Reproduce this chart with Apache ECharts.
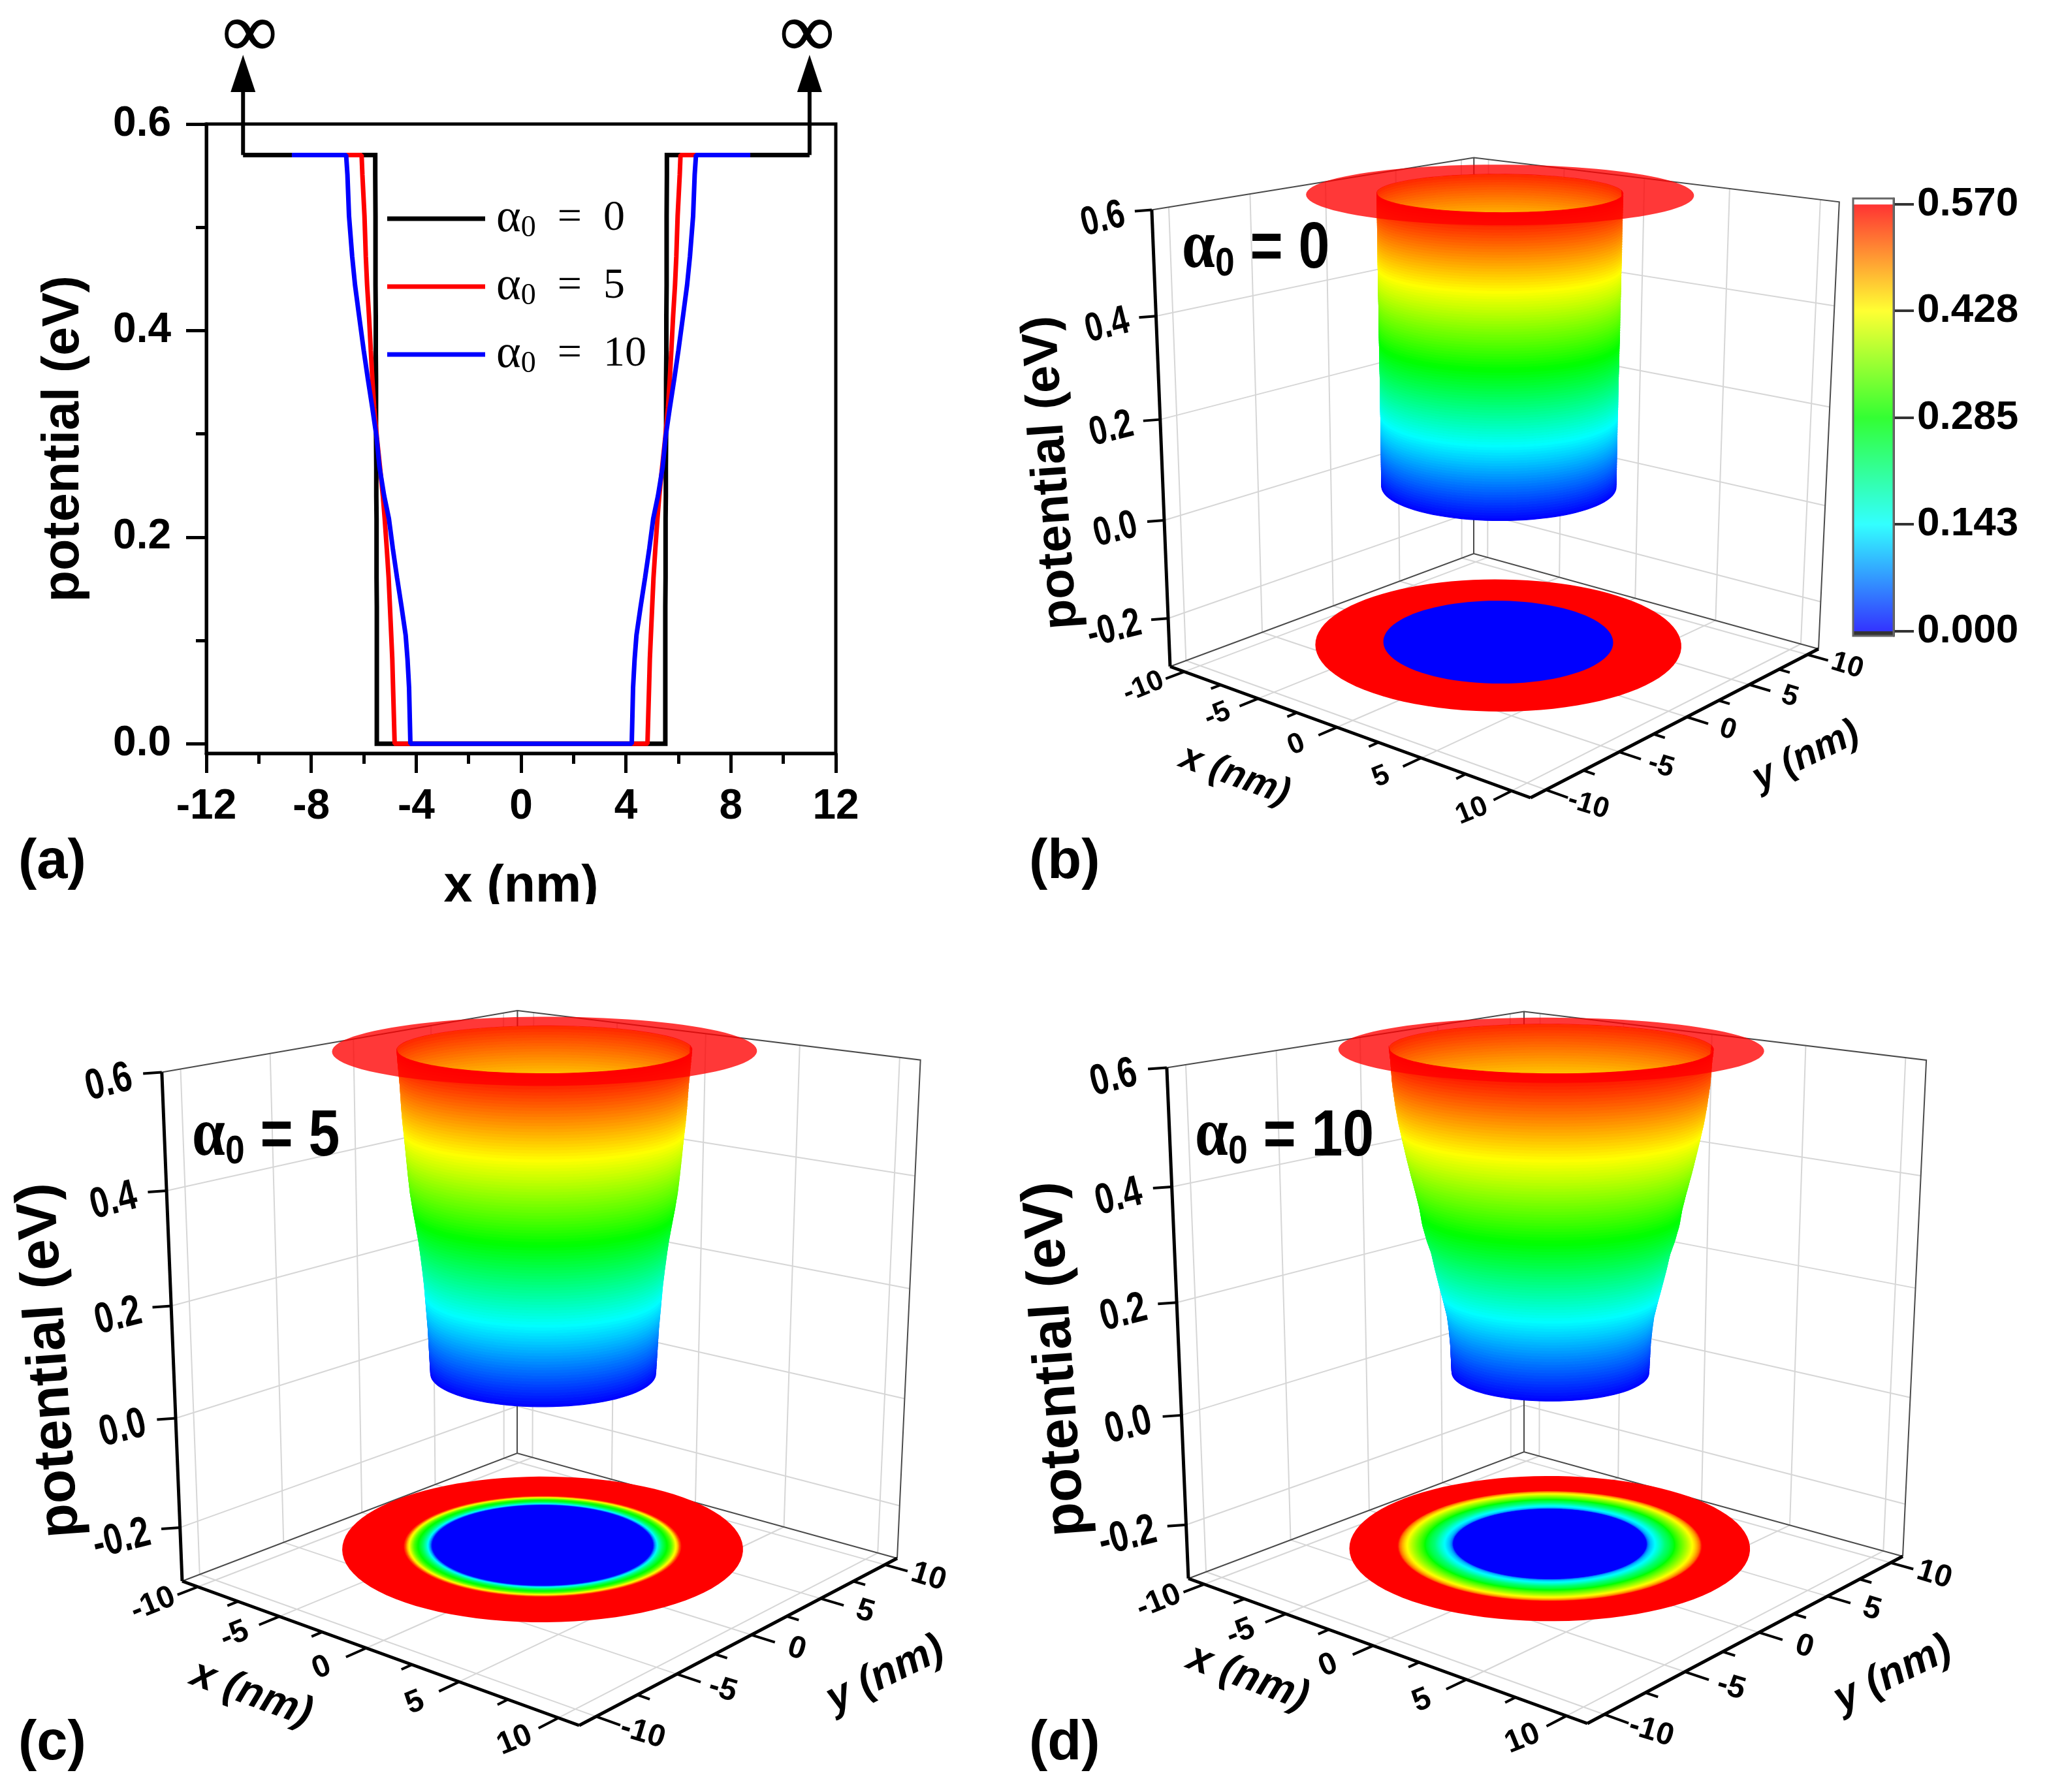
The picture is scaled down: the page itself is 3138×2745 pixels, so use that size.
<!DOCTYPE html>
<html><head><meta charset="utf-8">
<style>html,body{margin:0;padding:0;background:#fff}#c{width:3138px;height:2745px}</style>
<script src="https://cdn.jsdelivr.net/npm/echarts@6/dist/echarts.min.js"></script>
</head><body><div id="c"></div>
<script>
// ---------- data ----------
const potentialLevels = [0, 0.054, 0.082, 0.105, 0.133, 0.161, 0.189, 0.218, 0.24, 0.268, 0.297, 0.325, 0.353, 0.381, 0.415, 0.444, 0.472, 0.511, 0.551, 0.57];
const radiusAlpha0  = [5.5, 5.5, 5.5, 5.5, 5.5, 5.51, 5.51, 5.51, 5.52, 5.52, 5.53, 5.53, 5.53, 5.54, 5.54, 5.55, 5.55, 5.55, 5.56, 5.56];
const radiusAlpha5  = [4.82, 4.88, 4.91, 4.95, 5.0, 5.05, 5.12, 5.2, 5.27, 5.38, 5.5, 5.6, 5.67, 5.73, 5.8, 5.87, 5.92, 5.97, 6.05, 6.08];
const radiusAlpha10 = [4.22, 4.27, 4.33, 4.4, 4.56, 4.73, 4.89, 5.04, 5.22, 5.4, 5.51, 5.67, 5.84, 6.0, 6.18, 6.33, 6.44, 6.56, 6.62, 6.67];
const outerRadius = 8.74;
const wallLeft = -10.6, wallRight = 11;
const arrowTip = 0.667, arrowBase = 0.631, infinityLevel = 0.685;
const infinityX = [-10.35, 10.9];
const xTicksA = [-12, -8, -4, 0, 4, 8, 12];
const yMajorA = [0, 0.2, 0.4, 0.6];
const yMinorA = [0.1, 0.3, 0.5];
const colorbarTicks = [0, 0.143, 0.285, 0.428, 0.57];
const colorbarColors = ['#0000ff', '#00ffff', '#00ff00', '#ffff00', '#ff0000'];
const zTicks3D = [-0.2, 0, 0.2, 0.4, 0.6];
const xyMajor3D = [-10, -5, 0, 5, 10];
const xyMinor3D = [-7.5, -2.5, 2.5, 7.5];
const zMin = -0.3, zMax = 0.6, boxHalf = 11;

// ---------- layout (page pixels) ----------
const panels = [
 {name:'b', radii:radiusAlpha0, alpha:'0', L:[1792,1021],B:[2257,848],R:[2785,994],F:[2344,1222],Lt:[1764,320],Bt:[2257,242],Rt:[2817,310],
  shift:1.65, lift:0.0275,
  zTitle:[1611,724], zFont:76, xTitle:[1891,1188], yTitle:[2766,1158], tFont:58, lFont:44, zlFont:62, note:[1810,382]},
 {name:'c', radii:radiusAlpha5, alpha:'5', L:[279,2422],B:[792,2226],R:[1374,2387],F:[887,2643],Lt:[248,1640],Bt:[792,1549],Rt:[1410,1625],
  shift:2.2, lift:0.0265,
  zTitle:[77,2084], zFont:86, xTitle:[385,2595], yTitle:[1356,2565], tFont:64, lFont:48, zlFont:66, note:[294,1742]},
 {name:'d', radii:radiusAlpha10, alpha:'10', L:[1820,2418],B:[2334,2224],R:[2914,2384],F:[2431,2640],Lt:[1787,1637],Bt:[2334,1548],Rt:[2950,1624],
  shift:2.1, lift:0.0265,
  zTitle:[1618,2082], zFont:86, xTitle:[1911,2570], yTitle:[2899,2565], tFont:64, lFont:48, zlFont:66, note:[1830,1742]}
];
const SANS = '"Liberation Sans", Arial, sans-serif', SERIF = '"Liberation Serif", serif';

// ---------- maths helpers ----------
function solve(A, b){
  const n=b.length, M=A.map((r,i)=>r.concat([b[i]]));
  for(let c=0;c<n;c++){
    let p=c; for(let r=c+1;r<n;r++) if(Math.abs(M[r][c])>Math.abs(M[p][c])) p=r;
    [M[c],M[p]]=[M[p],M[c]];
    for(let r=0;r<n;r++){ if(r===c) continue; const f=M[r][c]/M[c][c]; for(let k=c;k<=n;k++) M[r][k]-=f*M[c][k]; }
  }
  return M.map((r,i)=>r[n]/r[i]);
}
function makeCamera(p){
  const s=boxHalf, src=[[-s,-s],[s,-s],[s,s],[-s,s]], dst=[p.L,p.F,p.R,p.B], A=[], b=[];
  src.forEach((q,i)=>{const [X,Y]=q,[u,v]=dst[i];
    A.push([X,Y,1,0,0,0,-u*X,-u*Y]); b.push(u);
    A.push([0,0,0,X,Y,1,-v*X,-v*Y]); b.push(v);});
  const h=solve(A,b).concat([1]);
  const tops=[[-s,-s,p.Lt],[-s,s,p.Bt],[s,s,p.Rt]], N=[[0,0,0],[0,0,0],[0,0,0]], r=[0,0,0];
  const add=(row,val)=>{for(let i=0;i<3;i++){r[i]+=row[i]*val;for(let j=0;j<3;j++)N[i][j]+=row[i]*row[j];}};
  tops.forEach(([X,Y,[u,v]])=>{
    const w=h[6]*X+h[7]*Y+h[8];
    add([1,0,-u],u*w-(h[0]*X+h[1]*Y+h[2]));
    add([0,1,-v],v*w-(h[3]*X+h[4]*Y+h[5]));
  });
  const [a,bb,c]=solve(N,r);
  return (x,y,z)=>{const t=(z-zMin)/(zMax-zMin), w=h[6]*x+h[7]*y+h[8]+c*t;
    return [(h[0]*x+h[1]*y+h[2]+a*t)/w,(h[3]*x+h[4]*y+h[5]+bb*t)/w];};
}
function hexToRgb(h){return [1,3,5].map(i=>parseInt(h.substr(i,2),16));}
function colorAt(z){
  const t=colorbarTicks; let i=0; while(i<t.length-2&&z>t[i+1]) i++;
  const f=Math.max(0,Math.min(1,(z-t[i])/(t[i+1]-t[i]))), a=hexToRgb(colorbarColors[i]), b=hexToRgb(colorbarColors[i+1]);
  return 'rgb('+a.map((v,k)=>Math.round(v+(b[k]-v)*f)).join(',')+')';
}
function radiusAt(z,radii){
  let i=0; while(i<potentialLevels.length-2&&z>potentialLevels[i+1]) i++;
  return radii[i]+(radii[i+1]-radii[i])*(z-potentialLevels[i])/(potentialLevels[i+1]-potentialLevels[i]);
}
const PI=Math.PI, radialScale=1.02, liftScale=1.022;

// ---------- 3D panel as library custom series ----------
function panelSeries(p){
  const cam=makeCamera(p), s=boxHalf, prims=[], fine=[];
  for(let i=0;i<=114;i++) fine.push(i*0.005);
  const arc=(r,z,t0,t1,n)=>{const o=[];for(let i=0;i<=n;i++){const t=t0+(t1-t0)*i/n,R=r*radialScale;
    o.push([R*Math.cos(t)-p.shift+0.15,R*Math.sin(t)+p.shift+0.15,z]);}return o;};
  const lifted=z=>z*liftScale+p.lift;
  const line=(pts,stroke,w)=>prims.push({k:'l',pts,stroke,w});
  const grid='#d6d6d6', thin='#4a4a4a';
  xyMajor3D.forEach(v=>{
    line([[-s,v,zMin],[-s,v,zMax]],grid,2);
    line([[v,s,zMin],[v,s,zMax]],grid,2);
    line([[v,-s,zMin],[v,s,zMin]],grid,2);
    line([[-s,v,zMin],[s,v,zMin]],grid,2);
  });
  zTicks3D.filter(z=>z<zMax).forEach(z=>{line([[-s,-s,z],[-s,s,z]],grid,2);line([[-s,s,z],[s,s,z]],grid,2);});
  line([[-s,-s,zMax],[-s,s,zMax],[s,s,zMax],[s,s,zMin]],thin,2);
  line([[-s,s,zMax],[-s,s,zMin]],thin,2);
  line([[-s,-s,zMin],[-s,s,zMin],[s,s,zMin]],thin,2);
  // floor map
  prims.push({k:'p',pts:arc(outerRadius,zMin,0,2*PI,96),fill:colorAt(0.57)});
  const stepped=p.radii[p.radii.length-1]-p.radii[0]<0.1;
  if(stepped) prims.push({k:'p',pts:arc(p.radii[0],zMin,0,2*PI,96),fill:colorAt(0)});
  else fine.slice().reverse().forEach(z=>prims.push({k:'p',pts:arc(radiusAt(z,p.radii),zMin,0,2*PI,96),fill:colorAt(z)}));
  // axes
  line([[-s,-s,zMin],[-s,-s,zMax]],'#000',5);
  line([[-s,-s,zMin],[s,-s,zMin]],'#000',5);
  line([[s,-s,zMin],[s,s,zMin]],'#000',5);
  xyMajor3D.forEach(v=>{line([[v,-s,zMin],[v,-s-1.15,zMin]],'#000',4);line([[s,v,zMin],[s+1.15,v,zMin]],'#000',4);});
  xyMinor3D.forEach(v=>{line([[v,-s,zMin],[v,-s-0.6,zMin]],'#000',4);line([[s,v,zMin],[s+0.6,v,zMin]],'#000',4);});
  const f=(p.F[0]-p.L[0])/552;
  zTicks3D.forEach(z=>{
    prims.push({k:'zt',at:[-s,-s,z]});
    prims.push({k:'t',at:[-s,-s,z],dx:-42*f,dy:7*f,text:z.toFixed(1),size:p.zlFont,rot:14,align:'right',sx:0.78,weight:'bold'});
  });
  xyMajor3D.forEach(v=>{
    prims.push({k:'t',at:[v,-s-2.5,zMin],text:String(v),size:p.lFont,rot:22,align:'center',weight:'bold'});
    prims.push({k:'t',at:[s+2.2,v,zMin],text:String(v),size:p.lFont,rot:-17,align:'center',weight:'bold'});
  });
  // surface: rear half (seen through the opening) then front half, one strip per colour step
  const half=(t0,t1,tone)=>{for(let i=0;i<fine.length-1;i++){
    const z0=fine[i],z1=fine[i+1],a=arc(radiusAt(z0,p.radii),lifted(z0),t0,t1,48),b=arc(radiusAt(z1,p.radii),lifted(z1),t0,t1,48).reverse();
    prims.push({k:'p',pts:a.concat(b),fill:colorAt((z0+z1)/2-tone),seam:true});
  }};
  half(PI/4,PI/4+PI,0.022);
  half(-3*PI/4,PI/4,0);
  // flange at the barrier top
  const rTop=p.radii[p.radii.length-1], zTop=lifted(0.57);
  prims.push({k:'p',pts:arc(outerRadius,zTop,0,2*PI,96).concat(arc(rTop,zTop,2*PI,0,96)),fill:'rgba(255,0,0,0.78)'});
  return {
    type:'custom',name:'surface '+p.name,xAxisIndex:1,yAxisIndex:2,silent:true,animation:false,clip:false,progressive:0,
    data:prims.map((_,i)=>[i]),
    renderItem:(params,api)=>{
      const o=prims[params.dataIndex];
      const P=q=>api.coord(cam(q[0],q[1],q[2]));
      if(o.k==='l') return {type:'polyline',silent:true,shape:{points:o.pts.map(P)},style:{stroke:o.stroke,lineWidth:o.w,fill:null}};
      if(o.k==='p') return {type:'polygon',silent:true,shape:{points:o.pts.map(P)},style:o.seam?{fill:o.fill,stroke:o.fill,lineWidth:1.2}:{fill:o.fill}};
      if(o.k==='zt'){const c=P(o.at);return {type:'line',silent:true,shape:{x1:c[0],y1:c[1],x2:c[0]-26*f,y2:c[1]+2},style:{stroke:'#000',lineWidth:4}};}
      const c=P(o.at);
      return {type:'text',silent:true,x:c[0]+(o.dx||0),y:c[1]+(o.dy||0),rotation:o.rot*PI/180,scaleX:o.sx||1,
        style:{text:o.text,fontSize:o.size,fontWeight:o.weight,fontFamily:SANS,fill:'#000',align:o.align,verticalAlign:'middle'}};
    }
  };
}

// ---------- panel (a) series ----------
function wellLine(radii,start,end){
  const left=radii.map((r,i)=>[-r,potentialLevels[i]]).reverse();
  const right=radii.map((r,i)=>[r,potentialLevels[i]]);
  return [[start,0.57]].concat(left,right,[[end,0.57]]);
}
const axisBlack={color:'#000',width:5};
const curveWidth=7;
const series=[
 {type:'line',name:'a0',data:wellLine(radiusAlpha0,wallLeft,wallRight),showSymbol:false,clip:false,lineStyle:{color:'#000',width:curveWidth,join:'miter'},itemStyle:{color:'#000'},animation:false,z:3},
 {type:'line',name:'a5',data:wellLine(radiusAlpha5,-outerRadius,outerRadius),showSymbol:false,clip:false,lineStyle:{color:'#ff0000',width:curveWidth},itemStyle:{color:'#ff0000'},animation:false,z:4},
 {type:'line',name:'a10',data:wellLine(radiusAlpha10,-outerRadius,outerRadius),showSymbol:false,clip:false,lineStyle:{color:'#0000ff',width:curveWidth},itemStyle:{color:'#0000ff'},animation:false,z:5},
 {type:'custom',name:'arrows',clip:false,silent:true,animation:false,data:[[wallLeft],[wallRight]],z:5,
  renderItem:(pr,api)=>{
    const x=api.value(0), tip=api.coord([x,arrowTip]), base=api.coord([x,arrowBase]), foot=api.coord([x,0.57]), inf=api.coord([infinityX[pr.dataIndex],infinityLevel]);
    return {type:'group',silent:true,children:[
      {type:'line',shape:{x1:foot[0],y1:foot[1],x2:base[0],y2:base[1]},style:{stroke:'#000',lineWidth:6}},
      {type:'polygon',shape:{points:[tip,[base[0]-19,base[1]],[base[0]+19,base[1]]]},style:{fill:'#000'}},
      {type:'text',x:inf[0],y:inf[1],style:{text:'∞',fontSize:114,fontWeight:'bold',fontFamily:SERIF,fill:'#000',stroke:'#000',lineWidth:1.5,align:'center',verticalAlign:'middle'}}
    ]};
  }},
 {type:'custom',name:'colorbar',xAxisIndex:2,yAxisIndex:3,silent:true,animation:false,clip:false,data:[[0]],
  renderItem:(pr,api)=>{
    const bot=api.coord([0,0]), floor=api.coord([0,-0.006]), top=api.coord([1,0.57]), cap=api.coord([1,0.578]);
    const stops=colorbarColors.map((c,i)=>({offset:colorbarTicks[i]/0.57,color:c}));
    return {type:'group',silent:true,children:[
      {type:'rect',shape:{x:bot[0],y:top[1],width:top[0]-bot[0],height:bot[1]-top[1]},
       style:{opacity:0.8,fill:{type:'linear',x:0,y:1,x2:0,y2:0,colorStops:stops}}},
      {type:'rect',shape:{x:bot[0],y:bot[1],width:top[0]-bot[0],height:floor[1]-bot[1]},style:{fill:'#333'}},
      {type:'rect',shape:{x:bot[0],y:cap[1],width:top[0]-bot[0],height:floor[1]-cap[1]},style:{fill:null,stroke:'#666',lineWidth:3}}
    ]};
  }}
].concat(panels.map(panelSeries));

// ---------- text placed on the page ----------
const elements=[];
[['(a)',28,1322],['(b)',1576,1322],['(c)',28,2672],['(d)',1576,2672]].forEach(([t,x,y])=>elements.push(
  {type:'text',x,y,z:50,style:{text:t,fontSize:85,fontWeight:'bold',fontFamily:SANS,fill:'#000',align:'left',verticalAlign:'middle'}}));
panels.forEach(p=>{
  elements.push({type:'text',x:p.note[0],y:p.note[1],z:50,scaleX:0.86,style:{
    text:'{a|α}{s|0}{t| = '+p.alpha+'}',align:'left',verticalAlign:'middle',
    rich:{a:{fontSize:106,fontFamily:SERIF,fontWeight:'bold',fill:'#000'},
          s:{fontSize:62,fontFamily:SANS,fontWeight:'bold',fill:'#000',padding:[46,0,0,0]},
          t:{fontSize:100,fontFamily:SANS,fontWeight:'bold',fill:'#000'}}}});
  elements.push({type:'text',x:p.zTitle[0],y:p.zTitle[1],rotation:94*PI/180,z:50,style:{text:'potential (eV)',fontSize:p.zFont,fontWeight:'bold',fontFamily:SANS,fill:'#000',align:'center',verticalAlign:'middle'}});
  elements.push({type:'text',x:p.xTitle[0],y:p.xTitle[1],rotation:-20*PI/180,z:50,style:{text:'x (nm)',fontSize:p.tFont,fontWeight:'bold',fontStyle:'italic',fontFamily:SANS,fill:'#000',align:'center',verticalAlign:'middle'}});
  elements.push({type:'text',x:p.yTitle[0],y:p.yTitle[1],rotation:26*PI/180,z:50,style:{text:'y (nm)',fontSize:p.tFont,fontWeight:'bold',fontStyle:'italic',fontFamily:SANS,fill:'#000',align:'center',verticalAlign:'middle'}});
});
elements.push({type:'rect',shape:{x:600,y:1385,width:420,height:80},z:60,style:{fill:'#fff'}});

const chart=echarts.init(document.getElementById('c'),null,{renderer:'canvas',width:3138,height:2745});
const legendText={a0:'0',a5:'5',a10:'10'};
chart.setOption({
  backgroundColor:'#fff',animation:false,
  grid:[
    {left:316,top:190,width:964,height:964,show:true,borderColor:'#000',borderWidth:5,backgroundColor:'transparent'},
    {left:0,top:0,width:3138,height:2745,show:false},
    {left:2838,top:304,width:62,height:670,show:false}
  ],
  xAxis:[
    {type:'value',gridIndex:0,min:-12,max:12,interval:4,name:'x (nm)',nameLocation:'middle',nameGap:166,
     nameTextStyle:{fontSize:79,fontWeight:'bold',fontFamily:SANS,color:'#000'},
     axisLine:{onZero:false,lineStyle:axisBlack},axisTick:{length:30,inside:false,lineStyle:axisBlack},
     minorTick:{show:true,splitNumber:2,length:16,lineStyle:axisBlack},minorSplitLine:{show:false},splitLine:{show:false},
     axisLabel:{margin:50,fontSize:64,fontWeight:'bold',fontFamily:SANS,color:'#000',customValues:xTicksA,formatter:v=>String(v)}},
    {type:'value',gridIndex:1,min:0,max:3138,show:false},
    {type:'value',gridIndex:2,min:0,max:1,show:false}
  ],
  yAxis:[
    {type:'value',gridIndex:0,min:-0.0094,max:0.6,name:'potential (eV)',nameLocation:'middle',nameGap:178,nameRotate:90,
     nameTextStyle:{fontSize:79,fontWeight:'bold',fontFamily:SANS,color:'#000'},
     axisLine:{onZero:false,lineStyle:axisBlack},axisTick:{length:31,lineStyle:axisBlack,customValues:yMajorA},splitLine:{show:false},
     axisLabel:{margin:54,fontSize:64,fontWeight:'bold',fontFamily:SANS,color:'#000',customValues:yMajorA,formatter:v=>v.toFixed(1)}},
    {type:'value',gridIndex:0,min:-0.0094,max:0.6,position:'left',axisLine:{show:false,onZero:false},splitLine:{show:false},
     axisTick:{length:16,lineStyle:axisBlack,customValues:yMinorA},axisLabel:{show:false}},
    {type:'value',gridIndex:1,min:0,max:2745,inverse:true,show:false},
    {type:'value',gridIndex:2,min:-0.006,max:0.578,position:'right',splitLine:{show:false},
     axisLine:{show:true,onZero:false,lineStyle:{color:'#444',width:3}},
     axisTick:{length:31,lineStyle:{color:'#333',width:4},customValues:colorbarTicks},
     axisLabel:{margin:36,fontSize:62,fontWeight:'bold',fontFamily:SANS,color:'#000',customValues:colorbarTicks,formatter:v=>v.toFixed(3)}}
  ],
  legend:{data:['a0','a5','a10'],orient:'vertical',left:588,top:294,itemWidth:150,itemHeight:7,itemGap:30,icon:'rect',selectedMode:false,
    formatter:n=>'{a|α}{s|0}{t|  =  '+legendText[n]+'}',
    textStyle:{rich:{a:{fontSize:72,fontFamily:SERIF,color:'#000',padding:[0,0,0,12]},s:{fontSize:46,fontFamily:SERIF,color:'#000',padding:[30,0,0,0]},t:{fontSize:66,fontFamily:SERIF,color:'#000'}}}},
  series,
  graphic:{elements}
});
</script></body></html>
